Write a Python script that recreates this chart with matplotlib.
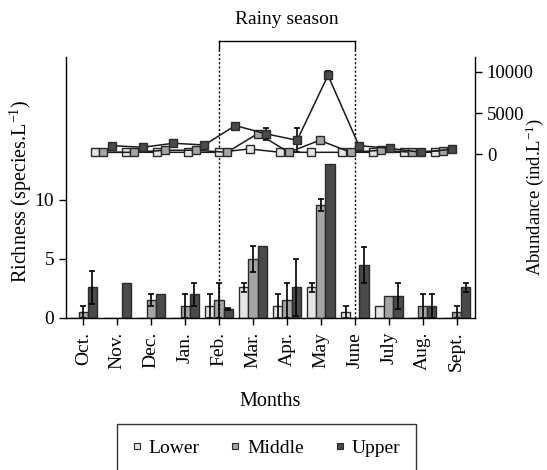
import matplotlib
matplotlib.use("Agg")
import matplotlib.pyplot as plt
import numpy as np
from matplotlib.lines import Line2D
import matplotlib.transforms as mtransforms

plt.rcParams['font.family'] = ['Liberation Serif', 'DejaVu Serif']
plt.rcParams['mathtext.fontset'] = 'custom'
plt.rcParams['mathtext.rm'] = 'Liberation Serif'
plt.rcParams['mathtext.it'] = 'Liberation Serif:italic'
FS = 14
LFS = 14.5
plt.rcParams['font.size'] = FS

months = ["Oct.", "Nov.", "Dec.", "Jan.", "Feb.", "Mar.", "Apr.", "May", "June", "July", "Aug.", "Sept."]
series = ["Lower", "Middle", "Upper"]

# Richness (species/L) - bars
rich_lower = [0, 0, 0, 0, 1.0, 2.6, 1.0, 2.6, 0.5, 1.0, 0, 0]
rich_middle = [0.5, 0, 1.5, 1.0, 1.5, 5.0, 1.5, 9.6, 0, 1.9, 1.0, 0.5]
rich_upper = [2.6, 3.0, 2.0, 2.0, 0.75, 6.1, 2.6, 13.0, 4.5, 1.9, 1.0, 2.6]
rich_lower_err = [0, 0, 0, 0, 1.0, 0.4, 1.0, 0.4, 0.5, 0, 0, 0]
rich_middle_err = [0.5, 0, 0.5, 1.0, 1.5, 1.1, 1.5, 0.5, 0, 0, 1.0, 0.5]
rich_upper_err = [1.4, 0, 0, 1.0, 0.1, 0, 2.4, 0, 1.5, 1.1, 1.0, 0.4]

# Abundance (ind/L) - lines
abund_lower = [240, 240, 240, 240, 240, 650, 240, 240, 240, 240, 240, 240]
abund_middle = [240, 240, 490, 490, 240, 2520, 240, 1700, 240, 490, 240, 450]
abund_upper = [1050, 850, 1340, 1130, 3490, 2480, 1700, 9590, 1050, 730, 240, 610]
abund_upper_err = [0, 0, 0, 0, 0, 700, 1450, 500, 0, 0, 0, 0]

colors = ['#e4e4e4', '#a4a4a4', '#4a4a4a']
edge = '#2a2a2a'

fig = plt.figure(figsize=(5.47, 4.70), dpi=100)
W, H = 547, 470
left, right, bottom, top = 66 / W, 475 / W, (H - 318) / H, (H - 57) / H
ax = fig.add_axes([left, bottom, right - left, top - bottom])

x = np.arange(len(months))
bw = 0.27
ekw = dict(ecolor='black', elinewidth=1.2, capsize=2.4, capthick=1.2)
for off, vals, errs, c in [(-bw, rich_lower, rich_lower_err, colors[0]),
                           (0, rich_middle, rich_middle_err, colors[1]),
                           (bw, rich_upper, rich_upper_err, colors[2])]:
    vals = np.array(vals, float)
    errs = np.array(errs, float)
    ax.bar(x + off, vals, bw, color=c, edgecolor=edge, linewidth=1.0, zorder=2)
    m = errs > 0
    ax.errorbar((x + off)[m], vals[m], yerr=errs[m], fmt='none', zorder=3, **ekw)

ax.set_xlim(-0.51, 11.54)
ax.set_ylim(0, 22.1)
ax.set_yticks([0, 5, 10])
ax.set_xticks(x)
ax.set_xticklabels(months, rotation=90)
ax.spines['top'].set_visible(False)
ax.spines['right'].set_visible(False)
for s in ['left', 'bottom']:
    ax.spines[s].set_linewidth(1.0)
ax.tick_params(axis='both', direction='out', length=5, width=1.0, labelsize=FS)
ax.tick_params(axis='x', pad=5)
ax.set_xlabel('Months', fontsize=LFS, labelpad=15)
ax.set_ylabel(r'Richness (species.L$^{-1}$)', fontsize=LFS)
ax.yaxis.set_label_coords(-0.078, 0.487)

# Overlay axes for abundance
ax2 = fig.add_axes([left, bottom, right - left, top - bottom], frameon=True)
ax2.patch.set_visible(False)
for s in ['top', 'left', 'bottom']:
    ax2.spines[s].set_visible(False)
ax2.spines['right'].set_linewidth(1.0)
ax2.yaxis.tick_right()
ax2.yaxis.set_label_position('right')
ax2.set_xticks([])
ax2.set_xlim(-1.207, 12.025)
ax2.set_ylim(-19890, 11820)
ax2.set_yticks([0, 5000, 10000])
ax2.tick_params(axis='y', direction='out', length=5, width=1.0, labelsize=13.5)
xl = np.arange(len(months))
for off, vals, c in [(-0.27, abund_lower, colors[0]), (0, abund_middle, colors[1]), (0.27, abund_upper, colors[2])]:
    ax2.plot(xl + off, vals, '-', color='#1a1a1a', lw=1.1, marker='s', ms=5.8,
             mfc=c, mec=edge, mew=1.0, zorder=3)
ue = np.array(abund_upper_err, float)
m = ue > 0
ax2.errorbar((xl + 0.27)[m], np.array(abund_upper)[m], yerr=ue[m], fmt='none', zorder=2, **ekw)
ax2.set_ylabel(r'Abundance (ind.L$^{-1}$)', fontsize=13.5)
ax2.yaxis.set_label_coords(1.118, 0.465)

# Rainy season bracket
trans = mtransforms.blended_transform_factory(ax.transData, ax.transAxes)
y_br = (318 - 41) / 261
y_sol = (318 - 50) / 261
for xv in [4, 8]:
    ax.plot([xv, xv], [0, y_sol], transform=trans, color='black', lw=1.0,
            ls=(0, (1.5, 1.5)), clip_on=False, zorder=4)
    ax.plot([xv, xv], [y_sol, y_br], transform=trans, color='black', lw=1.0,
            clip_on=False, zorder=4)
ax.plot([4, 8], [y_br, y_br], transform=trans, color='black', lw=1.0, clip_on=False)
ax.text(6, (318 - 20) / 261, 'Rainy season', transform=trans, ha='center', va='center', fontsize=FS)

# Legend
handles = [Line2D([], [], ls='none', marker='s', ms=5, mfc=c, mec=edge, mew=0.8) for c in colors]
leg = fig.legend(handles, series, loc='center', bbox_to_anchor=(266.5 / W, 1 - 448 / H),
                 ncol=3, frameon=True, fancybox=False, edgecolor='black', fontsize=14,
                 handlelength=0.4, handletextpad=0.4, columnspacing=1.65, borderpad=0.8,
                 borderaxespad=0)
leg.get_frame().set_linewidth(1.0)

fig.savefig('out.png', dpi=100)
